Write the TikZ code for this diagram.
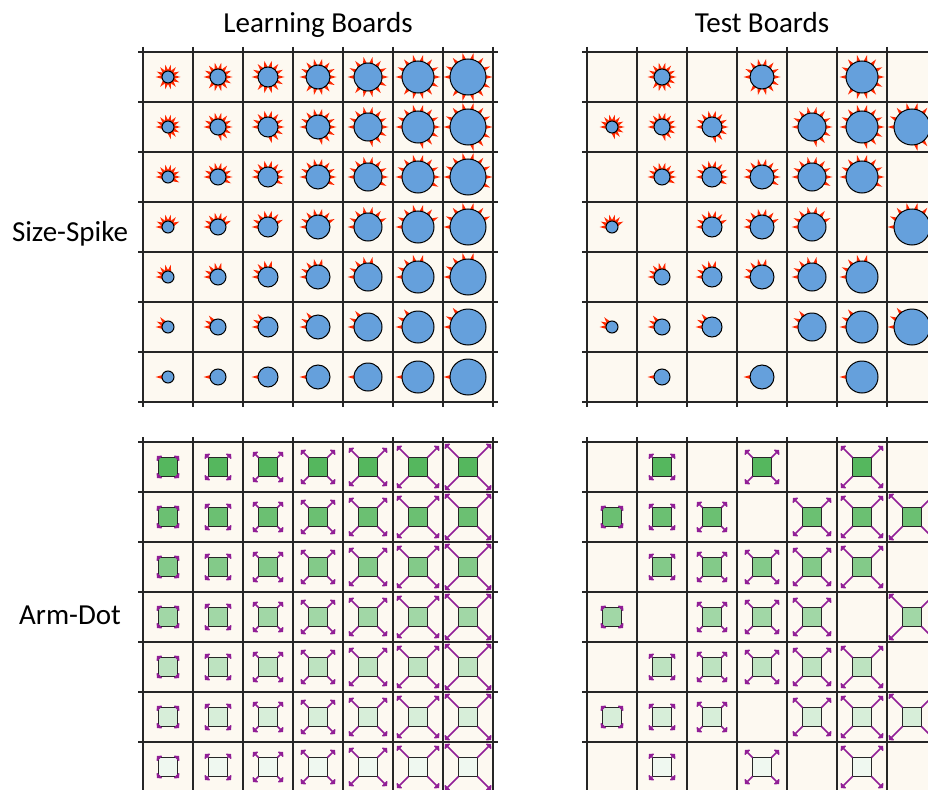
\documentclass[tikz,border=0pt]{standalone}
\usepackage{fontspec}
\setmainfont{Carlito}
\usepackage{xcolor}
\usepackage{tikz}
\usetikzlibrary{arrows.meta}

\definecolor{boardbg}{RGB}{253,249,241}
\definecolor{ballblue}{RGB}{101,160,220}
\definecolor{spikered}{RGB}{255,40,0}
\definecolor{armpurple}{RGB}{145,30,150}
\definecolor{dotgreen}{RGB}{55,170,65}

% spiked ball at (#1,#2): size from column #3, spikes from row #4
\newcommand{\spikeball}[4]{%
  \pgfmathsetmacro\ballrad{4+2*#3}%
  \pgfmathtruncatemacro\spikecount{min(14,15-2*#4)}%
  \begin{scope}[shift={(#1,#2)}]
    \foreach \k in {1,...,\spikecount}{%
      \fill[spikered,rotate={180-360/14*(\k-1)}]
        (\ballrad-1,-2.1) -- (\ballrad+6.5,0) -- (\ballrad-1,2.1) -- cycle;
    }%
    \filldraw[ballline] (0,0) circle[radius=\ballrad];
  \end{scope}
}
% armed dot at (#1,#2): arm length from column #3, green from row #4
\newcommand{\armdot}[4]{%
  \pgfmathsetmacro\armlen{(2*#3-0.5)*1.41421}%
  \pgfmathtruncatemacro\greenpct{{85,74,62,47,33,20,8}[#4-1]}%
  \begin{scope}[shift={(#1,#2)}]
    \filldraw[squareline,fill=dotgreen!\greenpct!white] (-9.5,-9.5) rectangle (9.5,9.5);
    \foreach \ang in {45,135,225,315}{%
      \draw[armline] (\ang:13.435) -- (\ang:13.435+\armlen);
    }%
  \end{scope}
}
% 7x7 board, top left corner at (#1,#2)
\newcommand{\board}[2]{%
  \fill[boardbg] (#1,#2) rectangle ++(350,350);
  \foreach \i in {0,...,7}{%
    \draw[gridline] (#1+50*\i,#2-5) -- ++(0,360);
    \draw[gridline] (#1-5,#2+50*\i) -- ++(360,0);
  }%
}

\begin{document}
\begin{tikzpicture}[x=1pt,y=-1pt,
    gridline/.style={draw=black!85,line width=1.2pt},
    ballline/.style={draw=black,fill=ballblue,line width=1pt},
    squareline/.style={draw=black!85,line width=1.2pt},
    armline/.style={armpurple,line width=1.7pt,
      -{Triangle[width=8.5pt,length=4pt,round]}},
    heading/.style={font=\fontsize{29}{34}\selectfont,anchor=base}
  ]
  \useasboundingbox (0,0) rectangle (928,789);
  \fill[white] (0,0) rectangle (928,789);
  \clip (0,0) rectangle (928,789);

  \node[heading] (learnhead) at (318,33) {Learning Boards};
  \node[heading] (testhead) at (762,33) {Test Boards};
  \node[heading] (spikehead) at (70,241) {Size-Spike};
  \node[heading] (armhead) at (70,624) {Arm-Dot};

  \board{143}{52}
  \board{587}{52}
  \board{143}{442}
  \board{587}{442}

  % learning boards: every cell
  \foreach \col in {1,...,7}{
    \foreach \row in {1,...,7}{
      \pgfmathsetmacro\gx{168+50*(\col-1)}
      \pgfmathsetmacro\gy{77+50*(\row-1)}
      \pgfmathsetmacro\hy{467+50*(\row-1)}
      \spikeball{\gx}{\gy}{\col}{\row}
      \armdot{\gx}{\hy}{\col}{\row}
    }
  }
  % test boards: the same glyphs, only some cells
  \foreach \col/\row in {2/1,4/1,6/1,
      1/2,2/2,3/2,5/2,6/2,7/2,
      2/3,3/3,4/3,5/3,6/3,
      1/4,3/4,4/4,5/4,7/4,
      2/5,3/5,4/5,5/5,6/5,
      1/6,2/6,3/6,5/6,6/6,7/6,
      2/7,4/7,6/7}{
    \pgfmathsetmacro\gx{612+50*(\col-1)}
    \pgfmathsetmacro\gy{77+50*(\row-1)}
    \pgfmathsetmacro\hy{467+50*(\row-1)}
    \spikeball{\gx}{\gy}{\col}{\row}
    \armdot{\gx}{\hy}{\col}{\row}
  }
\end{tikzpicture}
\end{document}
